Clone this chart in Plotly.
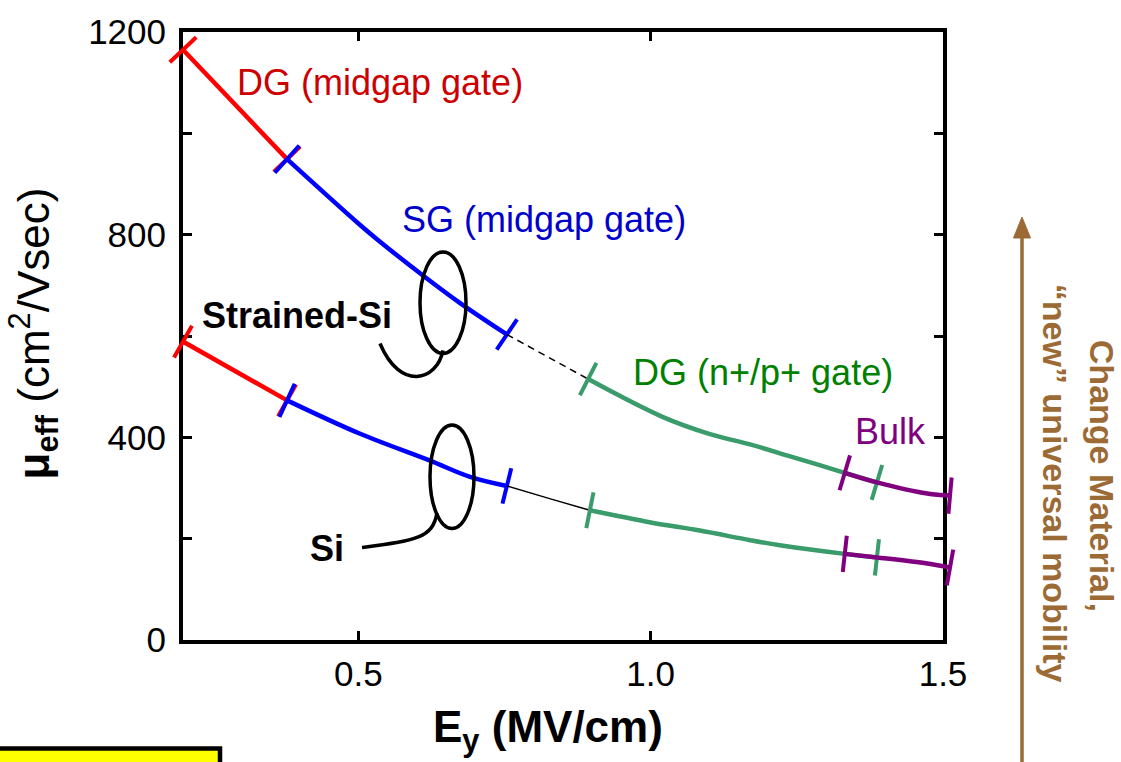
import math
import plotly.graph_objects as go

# ---------------- data ----------------
# Strained-Si curve
ss_dgmid_x = [0.20, 0.378]
ss_dgmid_y = [1165, 949]
ss_sg_x = [0.378, 0.50, 0.537, 0.611, 0.674, 0.754]
ss_sg_y = [949, 822, 786, 719, 665, 603]
ss_gap_x = [0.754, 0.893]
ss_gap_y = [603, 515]
ss_dgnp_x = [0.893, 1.021, 1.10, 1.17, 1.24, 1.332, 1.387]
ss_dgnp_y = [515, 440, 407, 386, 362, 330, 311]
ss_bulk_x = [1.332, 1.387, 1.473, 1.512]
ss_bulk_y = [330, 311, 289, 285]

# Si curve
si_dgmid_x = [0.20, 0.378]
si_dgmid_y = [589, 473]
si_sg_x = [0.378, 0.503, 0.6225, 0.691, 0.754]
si_sg_y = [473, 407, 354, 322, 304]
si_gap_x = [0.754, 0.83, 0.896]
si_gap_y = [304, 278, 256]
si_dgnp_x = [0.896, 1.0, 1.084, 1.17, 1.221, 1.332, 1.387]
si_dgnp_y = [256, 232, 216, 197, 187, 170, 163]
si_bulk_x = [1.332, 1.387, 1.473, 1.512]
si_bulk_y = [170, 163, 151, 143]

x_tickvals = [0.5, 1.0, 1.5]
x_ticktext = ["0.5", "1.0", "1.5"]
y_tickvals = [0, 400, 800, 1200]
y_ticktext = ["0", "400", "800", "1200"]
y_minor_tickvals = [200, 600, 1000]

# ---------------- styling ----------------
W, H = 1121, 762
ML, MT, MB = 183, 29, 122
FRAME_R = 943          # right edge of the framed plot (px)
DATA_R = 975           # right edge of the (unframed) data clip area (px)
MR = W - DATA_R
XR = [0.2, 1.5]
YR = [0, 1200]
PWF = FRAME_R - ML     # framed width
PWP = DATA_R - ML      # paper width
PH = H - MT - MB
FONT = "Liberation Sans, Arial, sans-serif"

RED, BLUE, GREEN, PURPLE = "#FF0000", "#0000FF", "#3A9B6B", "#800080"
BROWN = "#9C6B35"

kx = PWF / (XR[1] - XR[0])
ky = PH / (YR[1] - YR[0])
XR2 = [XR[0], XR[0] + PWP / kx]


def end_angles(xs, ys):
    a0 = math.degrees(math.atan2(-(ys[1] - ys[0]) * ky, (xs[1] - xs[0]) * kx))
    a1 = math.degrees(math.atan2(-(ys[-1] - ys[-2]) * ky, (xs[-1] - xs[-2]) * kx))
    return [a0, a1]


fig = go.Figure()

segments = [
    (ss_dgmid_x, ss_dgmid_y, RED, 4.5, "solid", True),
    (ss_sg_x, ss_sg_y, BLUE, 4.5, "solid", True),
    (ss_gap_x, ss_gap_y, "black", 1.5, "7px,5px", False),
    (ss_dgnp_x, ss_dgnp_y, GREEN, 4.5, "solid", True),
    (ss_bulk_x, ss_bulk_y, PURPLE, 4.5, "solid", True),
    (si_dgmid_x, si_dgmid_y, RED, 4.5, "solid", True),
    (si_sg_x, si_sg_y, BLUE, 4.5, "solid", True),
    (si_gap_x, si_gap_y, "black", 1.5, "solid", False),
    (si_dgnp_x, si_dgnp_y, GREEN, 4.5, "solid", True),
    (si_bulk_x, si_bulk_y, PURPLE, 4.5, "solid", True),
]

for xs, ys, col, lw, dash, ticks in segments:
    fig.add_trace(go.Scatter(
        x=xs, y=ys, mode="lines", xaxis="x2", yaxis="y",
        line=dict(color=col, width=lw, dash=dash, shape="spline", smoothing=1.0),
        hoverinfo="skip", showlegend=False, cliponaxis=False))
    if ticks:
        fig.add_trace(go.Scatter(
            x=[xs[0], xs[-1]], y=[ys[0], ys[-1]], mode="markers", xaxis="x2", yaxis="y",
            marker=dict(symbol="line-ns", size=26, angle=end_angles(xs, ys),
                        line=dict(color=col, width=4), color=col),
            hoverinfo="skip", showlegend=False, cliponaxis=False))

axis_common = dict(
    showline=True, linewidth=4, linecolor="black", mirror="ticks",
    ticks="inside", ticklen=9, tickwidth=3, tickcolor="black",
    showgrid=False, zeroline=False,
    tickfont=dict(family=FONT, size=35, color="black"),
)

fig.update_layout(
    xaxis=dict(range=XR, domain=[0, PWF / PWP], anchor="y",
               tickmode="array", tickvals=x_tickvals, ticktext=x_ticktext, **axis_common),
    yaxis=dict(range=YR, anchor="x", tickmode="array", tickvals=y_tickvals, ticktext=y_ticktext,
               ticklabelstandoff=6,
               minor=dict(tickmode="array", tickvals=y_minor_tickvals, ticks="inside",
                          ticklen=9, tickwidth=3, tickcolor="black", showgrid=False),
               **axis_common),
    xaxis2=dict(range=XR2, domain=[0, 1], anchor="y", visible=False,
                showgrid=False, zeroline=False),
)


def px2paper(px, py):
    return (px - ML) / PWP, (H - MB - py) / PH


def px2data(px, py):
    return XR[0] + (px - ML) / kx, YR[0] + (H - MB - py) / ky


annotations = []


def add_text(text, px, py, color, size, bold=False, angle=0, ref="data"):
    if ref == "data":
        x, y = px2data(px, py)
        xr, yr = "x", "y"
    else:
        x, y = px2paper(px, py)
        xr, yr = "paper", "paper"
    annotations.append(dict(
        x=x, y=y, xref=xr, yref=yr, text=("<b>%s</b>" % text) if bold else text,
        showarrow=False, xanchor="center", yanchor="middle", textangle=angle,
        font=dict(family=FONT, size=size, color=color)))


add_text("DG (midgap gate)", 380, 80, "#CC0000", 36)
add_text("SG (midgap gate)", 544, 217, "#0000CC", 36)
add_text("Strained-Si", 297, 314, "black", 36, bold=True)
add_text("Si", 327, 548, "black", 36, bold=True)
add_text("DG (n+/p+ gate)", 763, 371, "#008000", 36)
add_text("Bulk", 890, 430, "#800080", 36)

# axis titles
add_text("<b>μ<sub>eff</sub></b> (cm<sup>2</sup>/Vsec)", 34, 332, "black", 44, angle=-90, ref="paper")
add_text("E<sub>y</sub> (MV/cm)", 548, 730, "black", 44, bold=True, ref="paper")

# right-side brown annotation
add_text("Change Material,", 1102, 475, BROWN, 34, bold=True, angle=90, ref="paper")
add_text("“new” universal mobility", 1055, 482, BROWN, 34, bold=True, angle=90, ref="paper")

shapes = []


def ell(cx, cy, rx, ry):
    x0, y0 = px2data(cx - rx, cy + ry)
    x1, y1 = px2data(cx + rx, cy - ry)
    return dict(type="circle", xref="x", yref="y", x0=x0, y0=y0, x1=x1, y1=y1,
                line=dict(color="black", width=3.5), layer="above")


def bez(pts):
    d = [px2data(*p) for p in pts]
    path = "M %f,%f C %f,%f %f,%f %f,%f" % (d[0] + d[1] + d[2] + d[3])
    return dict(type="path", xref="x", yref="y", path=path,
                line=dict(color="black", width=3.5), layer="above")


shapes.append(ell(443, 301, 23, 51))
shapes.append(bez([(443, 349), (437, 380), (400, 390), (380, 342)]))
shapes.append(ell(452, 476, 22, 52))
shapes.append(bez([(437, 512), (433, 538), (415, 540), (362, 547)]))

# brown arrow (line + head) in paper coords
ax0, ay0 = px2paper(1022, 780)
ax1, ay1 = px2paper(1022, 230)
shapes.append(dict(type="line", xref="paper", yref="paper", x0=ax0, y0=ay0, x1=ax1, y1=ay1,
                   line=dict(color=BROWN, width=3.5), layer="above"))
hp = [px2paper(1022, 215), px2paper(1013.5, 236), px2paper(1030.5, 236)]
shapes.append(dict(type="path", xref="paper", yref="paper",
                   path="M %f,%f L %f,%f L %f,%f Z" % (hp[0] + hp[1] + hp[2]),
                   fillcolor=BROWN, line=dict(color=BROWN, width=1), layer="above"))

# yellow box bottom-left
bx0, by0 = px2paper(-10, 775)
bx1, by1 = px2paper(220, 749)
shapes.append(dict(type="rect", xref="paper", yref="paper", x0=bx0, y0=by0, x1=bx1, y1=by1,
                   fillcolor="#FFFF00", line=dict(color="black", width=4.5), layer="above"))

fig.update_layout(
    width=W, height=H, margin=dict(l=ML, r=MR, t=MT, b=MB),
    plot_bgcolor="rgba(0,0,0,0)", paper_bgcolor="white",
    showlegend=False, annotations=annotations, shapes=shapes,
    font=dict(family=FONT, color="black"),
)

fig.write_html("out.html")
